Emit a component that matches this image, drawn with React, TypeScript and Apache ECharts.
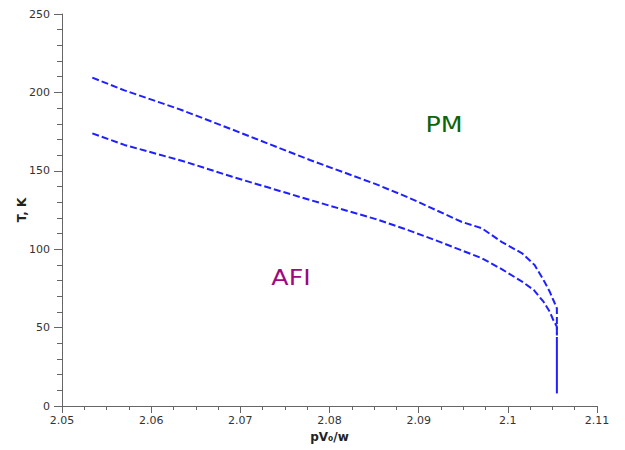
import React, { useEffect, useRef } from "react";
import * as echarts from "echarts";

const xTicks = { min: 2.05, max: 2.11, interval: 0.01 };
const yTicks = { min: 0, max: 250, interval: 50 };

const upperX = [2.0534, 2.057, 2.0634, 2.0691, 2.0778, 2.0852, 2.0888, 2.0948, 2.0971, 2.0994, 2.1016, 2.103, 2.104, 2.1047, 2.1051, 2.1055, 2.1055];
const upperY = [209.4, 201.3, 188.8, 176.3, 156.9, 141.5, 133.1, 117.5, 113.3, 104.3, 97.4, 89.9, 80.4, 72.9, 67.6, 62.3, 45];

const lowerX = [2.0534, 2.057, 2.0638, 2.0691, 2.0778, 2.0852, 2.0888, 2.0918, 2.0971, 2.0994, 2.1016, 2.1029, 2.104, 2.1047, 2.1051, 2.1055, 2.1055];
const lowerY = [173.9, 166.5, 155.8, 146.2, 131.4, 119.2, 112.2, 105.9, 94.2, 87, 79.3, 74, 66.5, 60.1, 54.8, 50.6, 45];

const tailX = [2.1055, 2.1055];
const tailY = [44, 8];

const regionLabels = ["PM", "AFI"];

const zip = (xs: number[], ys: number[]) => xs.map((x, i) => [x, ys[i]]);

export default function App() {
  const ref = useRef<HTMLDivElement>(null);
  useEffect(() => {
    if (!ref.current) return;
    const chart = echarts.init(ref.current, null, { renderer: "svg" });
    const font = "DejaVu Sans, Verdana, sans-serif";
    const axisColor = "#666";
    const lineColor = "#2020ff";
    chart.setOption({
      animation: false,
      backgroundColor: "#fff",
      grid: { left: 62, right: 28, top: 14, bottom: 44 },
      xAxis: {
        type: "value",
        min: xTicks.min,
        max: xTicks.max,
        interval: xTicks.interval,
        name: "pV₀/w",
        nameLocation: "middle",
        nameGap: 24,
        nameTextStyle: { fontFamily: font, fontSize: 12, fontWeight: "bold", color: "#222" },
        axisLine: { show: true, onZero: false, lineStyle: { color: axisColor, width: 1 } },
        axisTick: { show: true, length: 7, lineStyle: { color: axisColor } },
        minorTick: { show: true, splitNumber: 4, length: 4, lineStyle: { color: axisColor } },
        splitLine: { show: false },
        axisLabel: {
          fontFamily: font,
          fontSize: 11,
          color: "#333",
          margin: 9,
          formatter: (v: number) => String(Math.round(v * 1000) / 1000),
        },
      },
      yAxis: {
        type: "value",
        min: yTicks.min,
        max: yTicks.max,
        interval: yTicks.interval,
        name: "T, K",
        nameLocation: "middle",
        nameGap: 34,
        nameMoveOverlap: false,
        nameRotate: 90,
        nameTextStyle: { fontFamily: font, fontSize: 12, fontWeight: "bold", color: "#222" },
        axisLine: { show: true, lineStyle: { color: axisColor, width: 1 } },
        axisTick: { show: true, length: 8, lineStyle: { color: axisColor } },
        minorTick: { show: true, splitNumber: 5, length: 5, lineStyle: { color: axisColor } },
        splitLine: { show: false },
        axisLabel: { fontFamily: font, fontSize: 11, color: "#333", margin: 12 },
      },
      series: [
        {
          type: "line",
          data: zip(upperX, upperY),
          showSymbol: false,
          symbol: "none",
          lineStyle: { color: lineColor, width: 2, type: [7, 3] },
        },
        {
          type: "line",
          data: zip(lowerX, lowerY),
          showSymbol: false,
          symbol: "none",
          lineStyle: { color: lineColor, width: 2, type: [7, 3] },
        },
        {
          type: "line",
          data: zip(tailX, tailY),
          showSymbol: false,
          symbol: "none",
          lineStyle: { color: lineColor, width: 2, type: "solid" },
        },
      ],
      graphic: [
        {
          type: "text",
          x: 444,
          y: 125,
          scaleX: 1.15,
          style: {
            text: regionLabels[0],
            fontFamily: font,
            fontSize: 22,
            fill: "#0b650b",
            align: "center",
            verticalAlign: "middle",
          },
        },
        {
          type: "text",
          x: 291,
          y: 278,
          scaleX: 1.15,
          style: {
            text: regionLabels[1],
            fontFamily: font,
            fontSize: 22,
            fill: "#a0087f",
            align: "center",
            verticalAlign: "middle",
          },
        },
      ],
    });
    return () => chart.dispose();
  }, []);
  return <div ref={ref} style={{ width: 625, height: 450, position: "absolute", left: 0, top: 0 }} />;
}
